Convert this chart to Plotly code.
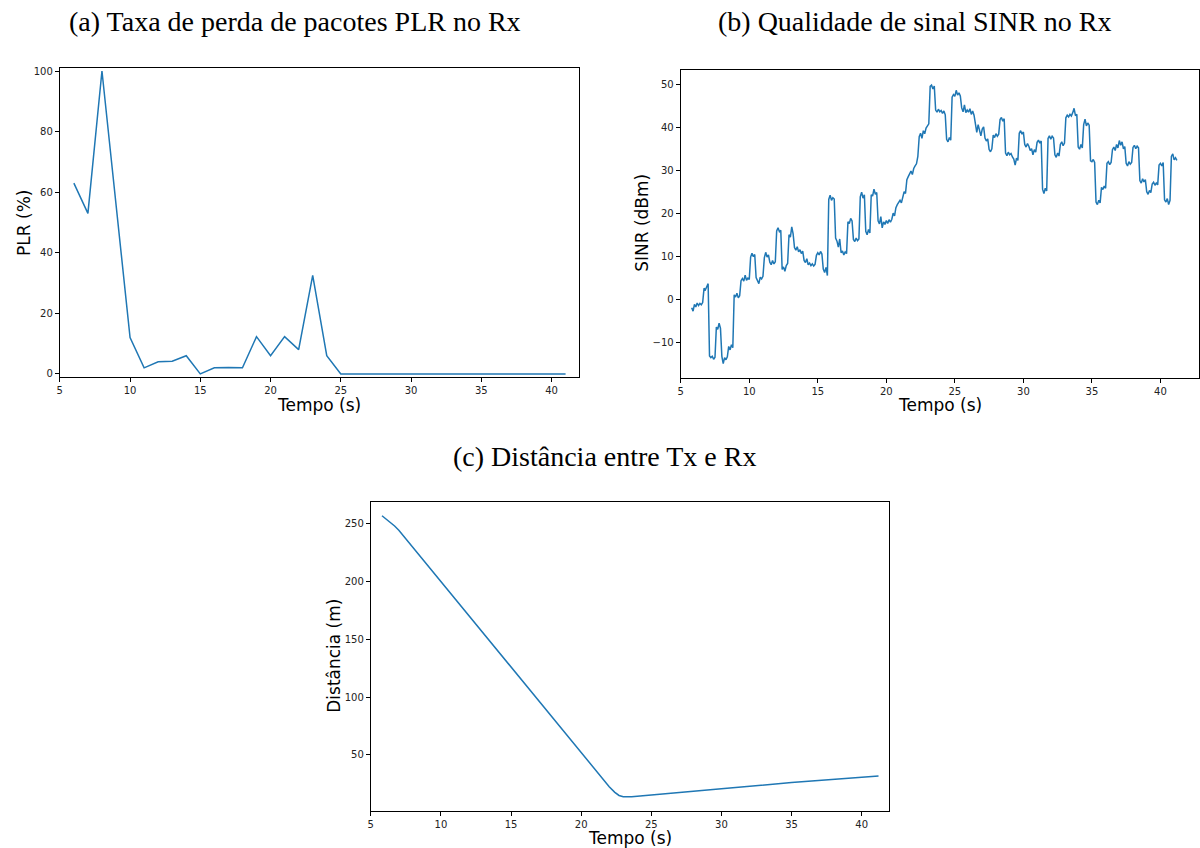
import plotly.graph_objects as go

# ---------------- data ----------------
plr_t = list(range(6, 42))
plr_v = [63, 53, 100, 56, 12, 2, 4, 4.2, 6, 0, 2, 2.1, 2, 12.3, 6, 12.3, 8, 32.5, 6, 0,
         0, 0, 0, 0, 0, 0, 0, 0, 0, 0, 0, 0, 0, 0, 0, 0]

sinr_t0 = 5.8
sinr_dt = 0.1
sinr_v = [
    -2.0, -2.8,
    -1.2, -1.8, -0.9, -1.5, -1.0, -1.3, -0.8, 2.5, 2.2, 2.9,
    3.6, -13.2, -13.6, -13.3, -14.0, -13.5, -6.5, -7.0, -5.6, -6.8,
    -13.3, -15.0, -13.6, -14.1, -13.4, -11.0, -11.8, -10.6, -11.3, 1.0,
    0.5, 1.4, 0.3, 0.8, 4.3, 4.8, 4.2, 5.6, 4.4, 4.9,
    4.6, 9.8, 10.7, 9.9, 10.4, 5.0, 4.2, 3.6, 5.1, 4.7,
    5.3, 9.6, 10.9, 9.8, 10.3, 8.6, 8.0, 9.0, 8.2, 8.7,
    15.9, 16.6, 15.7, 16.0, 6.9, 7.5, 6.5, 7.8, 8.3, 15.0,
    14.4, 16.8, 15.2, 12.0, 11.4, 12.2, 11.0, 11.5, 10.6, 11.2,
    9.0, 8.5, 9.4, 8.0, 8.4, 7.8, 8.2, 7.7, 8.1, 10.2,
    10.8, 10.3, 11.1, 10.5, 7.0, 6.2, 7.4, 5.5, 23.2, 24.2,
    23.0, 23.6, 23.3, 14.2, 13.5, 12.1, 14.0, 10.8, 11.2, 10.3,
    11.0, 10.6, 18.0, 17.6, 18.8, 18.2, 13.9, 13.4, 14.2, 13.6,
    14.0, 23.8, 24.9, 23.5, 24.3, 15.8, 15.0, 16.2, 15.4, 24.3,
    24.0, 25.6, 24.4, 24.8, 18.2, 17.5, 19.2, 16.6, 18.0, 17.4,
    18.3, 17.6, 18.5, 17.9, 18.6, 20.0, 19.4, 21.3, 22.0, 22.6,
    23.0, 22.4, 23.5, 25.0, 24.6, 27.8, 28.5, 29.3, 29.8, 29.0,
    30.4, 31.0, 31.5, 33.2, 37.8, 38.6, 37.4, 39.2, 38.5, 39.8,
    40.3, 40.8, 49.5, 49.8, 48.9, 49.6, 44.0, 43.5, 44.2, 43.6,
    43.9, 43.2, 43.8, 42.9, 37.2, 36.6, 37.6, 37.0, 47.0, 47.6,
    47.2, 48.6, 47.5, 48.0, 47.3, 44.5, 43.6, 45.2, 43.4, 44.0,
    43.5, 44.3, 43.0, 43.8, 42.8, 40.2, 38.8, 40.6, 39.5, 38.0,
    39.6, 40.1, 37.5, 36.8, 37.3, 34.8, 34.3, 35.0, 38.2, 37.6,
    38.5, 37.9, 38.4, 41.8, 42.3, 41.4, 42.0, 34.0, 33.4, 34.2,
    33.6, 33.9, 33.1, 32.6, 31.2, 32.8, 32.3, 38.6, 39.2, 38.4,
    38.9, 36.0, 35.4, 36.2, 35.6, 34.6, 35.0, 33.6, 34.8, 34.2,
    36.5, 37.0, 36.3, 36.8, 25.6, 24.6, 25.8, 25.2, 37.4, 38.0,
    37.2, 37.9, 37.5, 33.6, 33.0, 34.0, 33.3, 36.0, 36.6, 35.7,
    36.3, 42.2, 42.8, 42.4, 43.0, 42.6, 43.4, 44.4, 42.7, 43.0,
    35.4, 34.9, 36.0, 35.2, 40.6, 41.9, 40.3, 41.0, 40.5, 32.2,
    32.0, 32.5, 31.8, 22.6, 22.0, 23.0, 22.4, 26.0, 25.5, 26.3,
    25.8, 31.6, 32.0, 31.3, 31.8, 34.8, 35.4, 34.6, 36.0, 35.2,
    36.9, 35.8, 36.6, 35.0, 35.5, 31.6, 31.0, 32.0, 31.4, 31.8,
    35.3, 35.8, 35.0, 35.6, 35.2, 27.6, 27.0, 28.0, 27.3, 27.8,
    25.0, 24.4, 25.3, 24.8, 26.8, 27.2, 26.5, 27.0, 26.6, 31.2,
    31.6, 31.0, 31.8, 23.1, 22.6, 23.4, 22.0, 23.0, 33.2, 33.8,
    32.4, 32.9, 32.3,
]
sinr_t = [round(sinr_t0 + i * sinr_dt, 2) for i in range(len(sinr_v))]

dist_t = [5.8, 6.1, 6.4, 6.7, 7.0, 7.5, 8, 9, 10, 11, 12, 13, 14, 15, 16, 17, 18, 19, 20, 21, 22,
          22.4, 22.7, 23.0, 23.3, 23.6, 24, 25, 30, 35, 41.2]
dist_v = [256.9, 254.2, 251.2, 248.0, 244.4, 237.0, 229.6, 214.8, 200.0, 185.2, 170.4, 155.6, 140.8,
          125.9, 111.1, 96.3, 81.5, 66.6, 51.7, 36.9, 22.4, 17.5, 14.8, 13.7, 13.4, 13.6,
          14.0, 15.2, 20.7, 25.9, 31.6]

titles = ["(a) Taxa de perda de pacotes PLR no Rx",
          "(b) Qualidade de sinal SINR no Rx",
          "(c) Distância entre Tx e Rx"]
xlabel = "Tempo (s)"
ylabels = ["PLR (%)", "SINR (dBm)", "Distância (m)"]

# ---------------- figure ----------------
W, H = 1200, 848
BLUE = "#1f77b4"

def px_x(p):
    return p / W

def px_y(p):
    return 1 - p / H

fig = go.Figure()
fig.add_trace(go.Scatter(x=plr_t, y=plr_v, mode="lines", line=dict(color=BLUE, width=1.5),
                         xaxis="x", yaxis="y", showlegend=False))
fig.add_trace(go.Scatter(x=sinr_t, y=sinr_v, mode="lines", line=dict(color=BLUE, width=1.5),
                         xaxis="x2", yaxis="y2", showlegend=False))
fig.add_trace(go.Scatter(x=dist_t, y=dist_v, mode="lines", line=dict(color=BLUE, width=1.5),
                         xaxis="x3", yaxis="y3", showlegend=False))

tickfont = dict(family="DejaVu Sans", size=10, color="#222")
axcommon = dict(showline=True, mirror=True, linecolor="black", linewidth=1,
                ticks="outside", ticklen=4, tickwidth=1, tickcolor="black",
                showgrid=False, zeroline=False, tickfont=tickfont)

boxes = {
    "a": (57, 578, 66, 377),
    "b": (680, 1210, 68, 378),
    "c": (369, 889, 502, 813),
}

def dom(box):
    l, r, t, b = box
    return [max(0, px_x(l)), min(1, px_x(r))], [px_y(b), px_y(t)]

xa, ya = dom(boxes["a"])
xb, yb = dom(boxes["b"])
xc, yc = dom(boxes["c"])

fig.update_layout(
    width=W, height=H, margin=dict(l=0, r=0, t=0, b=0),
    plot_bgcolor="white", paper_bgcolor="white",
    xaxis=dict(domain=xa, range=[5, 41.96], tickvals=[5, 10, 15, 20, 25, 30, 35, 40], anchor="y", **axcommon),
    yaxis=dict(domain=ya, range=[-1.1, 101.1], tickvals=[0, 20, 40, 60, 80, 100], anchor="x", **axcommon),
    xaxis2=dict(domain=xb, range=[5, 42.1 + (10 / 14.0)], tickvals=[5, 10, 15, 20, 25, 30, 35, 40], anchor="y2", **axcommon),
    yaxis2=dict(domain=yb, range=[-18.4, 53.4], tickvals=[-10, 0, 10, 20, 30, 40, 50], anchor="x2", **axcommon),
    xaxis3=dict(domain=xc, range=[5, 41.95], tickvals=[5, 10, 15, 20, 25, 30, 35, 40], anchor="y3", **axcommon),
    yaxis3=dict(domain=yc, range=[1.2, 269.1], tickvals=[50, 100, 150, 200, 250], anchor="x3", **axcommon),
)

ann = []
titlefont = dict(family="Liberation Serif", size=28, color="black")
labfont = dict(family="DejaVu Sans", size=17, color="black")
# panel titles
for txt, cx, cy in [(titles[0], 293, 20), (titles[1], 915, 20), (titles[2], 604, 457)]:
    ann.append(dict(text=txt, x=px_x(cx), y=px_y(cy), xref="paper", yref="paper",
                    showarrow=False, font=titlefont, xanchor="center", yanchor="middle"))
# x labels
for cx, cy in [(317, 405), (940, 405), (629, 840)]:
    ann.append(dict(text=xlabel, x=px_x(cx), y=px_y(cy), xref="paper", yref="paper",
                    showarrow=False, font=labfont, xanchor="center", yanchor="middle"))
# y labels
for txt, cx, cy in [(ylabels[0], 21, 222), (ylabels[1], 641, 222), (ylabels[2], 332, 657)]:
    ann.append(dict(text=txt, x=px_x(cx), y=px_y(cy), xref="paper", yref="paper",
                    showarrow=False, font=labfont, textangle=-90,
                    xanchor="center", yanchor="middle"))
fig.update_layout(annotations=ann)

fig.write_html("out.html", config={"displayModeBar": False},
               post_script="document.body.style.margin='0';document.body.style.overflow='hidden';")
